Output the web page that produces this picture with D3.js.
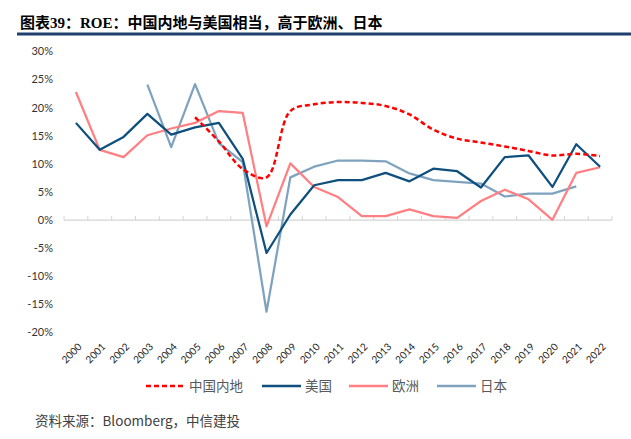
<!DOCTYPE html>
<html><head><meta charset="utf-8">
<script src="https://cdn.jsdelivr.net/npm/d3@7"></script>
<style>
html,body{margin:0;padding:0;background:#fff;}
svg{display:block;}
</style></head>
<body>
<svg id="c" width="631" height="439"></svg>
<script>
const years = ["2000","2001","2002","2003","2004","2005","2006","2007","2008","2009","2010","2011","2012","2013","2014","2015","2016","2017","2018","2019","2020","2021","2022"];
const china = [null,null,null,null,null,18.3,14.0,9.1,7.6,19.4,20.6,21.0,20.85,20.3,18.8,16.1,14.5,13.8,13.1,12.3,11.5,11.8,11.4];
const usa = [17.3,12.5,14.8,18.9,15.2,16.5,17.3,10.9,-5.85,1.0,6.2,7.1,7.1,8.4,6.9,9.15,8.7,5.8,11.2,11.5,5.9,13.5,9.5];
const europe = [22.8,12.5,11.2,15.1,16.3,17.3,19.4,19.1,-1.1,10.1,5.9,4.1,0.7,0.7,1.9,0.7,0.4,3.4,5.4,3.7,0.05,8.4,9.4];
const japan = [null,null,null,24.1,13.0,24.2,13.7,10.3,-16.3,7.6,9.5,10.6,10.6,10.45,8.3,7.1,6.8,6.5,4.2,4.7,4.7,6.0,null];
const yTicks = [-20,-15,-10,-5,0,5,10,15,20,25,30];
const seriesNames = ["中国内地","美国","欧洲","日本"];
const title = "图表39：ROE：中国内地与美国相当，高于欧洲、日本";
const source = "资料来源：Bloomberg，中信建投";

const colors = ["#FF0000","#0E4F7E","#FF7F82","#7FA3BF"];
const dashes = ["5,3",null,null,null];
const data = [china, usa, europe, japan];

const svg = d3.select("#c");
const cjk = "'Noto Sans CJK SC','Noto Sans',sans-serif";

// title
svg.append("text").attr("x",20).attr("y",28)
  .attr("font-family","'Liberation Serif','Noto Sans CJK SC',serif")
  .attr("font-weight","bold").attr("font-size",15).attr("fill","#000")
  .text(title);
svg.append("line").attr("x1",17).attr("x2",631).attr("y1",34).attr("y2",34)
  .attr("stroke","#1F3F6E").attr("stroke-width",3);

const x = d3.scaleBand().domain(years).range([64,612]);
const y = d3.scaleLinear().domain([-20,30]).range([332.5,51.5]);
const cx = d => x(d) + x.bandwidth()/2;

// y labels
svg.append("g").selectAll("text").data(yTicks).join("text")
  .attr("x",53).attr("y",d=>y(d)).attr("dy","0.35em").attr("text-anchor","end")
  .attr("font-family","Lato,'Open Sans',sans-serif").attr("font-size",11).attr("fill","#333")
  .text(d=>d+"%");

// zero axis
const ax = svg.append("g");
ax.append("line").attr("x1",64).attr("x2",612).attr("y1",y(0)).attr("y2",y(0))
  .attr("stroke","#D4D4D4").attr("stroke-width",1.2);
const edges = years.map(d=>x(d)).concat([x(years[years.length-1])+x.bandwidth()]);
ax.selectAll("line.t").data(edges).join("line").attr("class","t")
  .attr("x1",d=>d).attr("x2",d=>d).attr("y1",y(0)).attr("y2",y(0)-4)
  .attr("stroke","#D4D4D4").attr("stroke-width",1);

// x labels
svg.append("g").selectAll("text").data(years).join("text")
  .attr("transform",d=>`translate(${cx(d)+4},${345}) rotate(-45)`)
  .attr("text-anchor","end").attr("dy","0.35em")
  .attr("font-family","Lato,'Open Sans',sans-serif").attr("font-size",10).attr("fill","#222")
  .text(d=>d);

// lines
const order = [3,2,1,0];
order.forEach(i=>{
  const pts = years.map((yr,k)=>({yr,v:data[i][k]})).filter(p=>p.v!==null);
  const line = d3.line().x(p=>cx(p.yr)).y(p=>y(p.v))
    .curve(i===0 ? d3.curveCatmullRom.alpha(0.5) : d3.curveLinear);
  svg.append("path").datum(pts).attr("d",line).attr("fill","none")
    .attr("stroke",colors[i]).attr("stroke-width",i===0?2.5:2.25)
    .attr("stroke-linejoin","round")
    .attr("stroke-dasharray",dashes[i]);
});

// legend
const legX = [146,262,349,437];
const lg = svg.append("g");
seriesNames.forEach((n,i)=>{
  lg.append("line").attr("x1",legX[i]).attr("x2",legX[i]+39).attr("y1",386).attr("y2",386)
    .attr("stroke",colors[i]).attr("stroke-width",2.5).attr("stroke-dasharray",dashes[i]);
  lg.append("text").attr("x",legX[i]+43).attr("y",386).attr("dy","0.35em")
    .attr("font-family",cjk).attr("font-size",13.5).attr("fill","#595959").text(n);
});

// source
svg.append("text").attr("x",35).attr("y",421).attr("dy","0.35em")
  .attr("font-family",cjk).attr("font-size",13.5).attr("fill","#404040").text(source);
</script>
</body></html>
